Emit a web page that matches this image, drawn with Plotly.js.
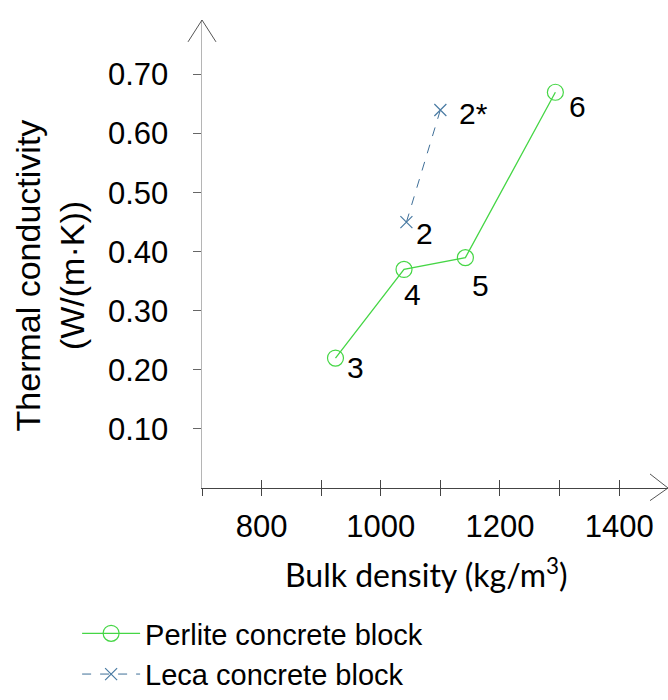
<!DOCTYPE html>
<html>
<head>
<meta charset="utf-8">
<script src="https://cdn.plot.ly/plotly-3.0.1.min.js"></script>
<style>html,body{margin:0;padding:0;background:#fff;}#chart{width:668px;height:700px;}</style>
</head>
<body>
<div id="chart"></div>
<script>
// ---- data ----
const perliteDensity = [924, 1039, 1142, 1293];
const perliteConductivity = [0.22, 0.37, 0.39, 0.67];
const perliteLabels = ['3', '4', '5', '6'];

const lecaDensity = [1043, 1100];
const lecaConductivity = [0.45, 0.64];
const lecaLabels = ['2', '2*'];

const xTickVals = [800, 1000, 1200, 1400];
const xTickText = ['800', '1000', '1200', '1400'];
const xAllTickVals = [800, 900, 1000, 1100, 1200, 1300, 1400];
const yTickVals = [0.10, 0.20, 0.30, 0.40, 0.50, 0.60, 0.70];
const yTickText = ['0.10', '0.20', '0.30', '0.40', '0.50', '0.60', '0.70'];

const seriesNames = ['Perlite concrete block', 'Leca concrete block'];
const xTitle = 'Bulk density (kg/m<sup>3</sup>)';
const yTitle = 'Thermal conductivity<br>(W/(m·K))';

// ---- label offsets (style) ----
const perliteLabelShift = [[20, -9], [8, -25], [15, -28], [22, -14]];
const lecaLabelShift = [[18, -11], [33, -4]];

const XR = [700, 1482];
const YR = [0, 0.7923];
const ARIAL = 'Liberation Sans, Arial, sans-serif';

const traces = [
  {
    x: perliteDensity, y: perliteConductivity, name: seriesNames[0],
    type: 'scatter', mode: 'lines+markers',
    line: {color: '#45d645', width: 1.3},
    marker: {symbol: 'circle-open', size: 16, color: '#45d645', line: {width: 1.2, color: '#45d645'}}
  },
  {
    x: lecaDensity, y: lecaConductivity, name: seriesNames[1],
    xaxis: 'x2', yaxis: 'y',
    type: 'scatter', mode: 'lines+markers',
    line: {color: '#3f6f98', width: 1, dash: 'dash'},
    marker: {symbol: 'x-thin-open', size: 12, color: '#4a7ba3', line: {width: 1.2, color: '#4a7ba3'}}
  }
];

const annotations = [];
perliteDensity.forEach((d, i) => annotations.push({
  x: d, y: perliteConductivity[i], xref: 'x', yref: 'y', text: perliteLabels[i],
  showarrow: false, xshift: perliteLabelShift[i][0], yshift: perliteLabelShift[i][1],
  font: {family: ARIAL, size: 30, color: '#000'}
}));
lecaDensity.forEach((d, i) => annotations.push({
  x: d, y: lecaConductivity[i], xref: 'x', yref: 'y', text: lecaLabels[i],
  showarrow: false, xshift: lecaLabelShift[i][0], yshift: lecaLabelShift[i][1],
  font: {family: ARIAL, size: 30, color: '#000'}
}));
annotations.push({
  x: -0.326, y: 0.4544, xref: 'paper', yref: 'paper', text: yTitle, textangle: -90,
  showarrow: false, xanchor: 'center', yanchor: 'middle',
  font: {family: ARIAL, size: 34, color: '#000'}
});
annotations.push({
  x: 0.4828, y: -0.1826, xref: 'paper', yref: 'paper', text: xTitle,
  showarrow: false, xanchor: 'center', yanchor: 'middle',
  font: {family: 'Lato, Open Sans, sans-serif', size: 32, color: '#000'}
});

const shapes = [
  {type: 'path', xref: 'paper', yref: 'paper', path: 'M -0.030,0.9533 L 0,1 L 0.030,0.9533',
   line: {color: '#555', width: 1}},
  {type: 'path', xref: 'paper', yref: 'paper', path: 'M 0.9614,0.0300 L 1,0 L 0.9614,-0.0270',
   line: {color: '#555', width: 1}}
];

const layout = {
  width: 668, height: 700,
  margin: {l: 202, r: 0, t: 20, b: 209, pad: 0},
  paper_bgcolor: '#fff', plot_bgcolor: '#fff',
  showlegend: true,
  legend: {
    x: -0.268, y: -0.257, xanchor: 'left', yanchor: 'top',
    font: {family: ARIAL, size: 29, color: '#000'},
    itemwidth: 58, tracegroupgap: 0, bgcolor: 'rgba(0,0,0,0)'
  },
  xaxis: {
    range: XR, showgrid: false, zeroline: false,
    showline: true, linecolor: '#444', linewidth: 1.2,
    tickmode: 'array', tickvals: xTickVals, ticktext: xTickText,
    ticks: 'outside', ticklen: 7, tickwidth: 1, tickcolor: '#444',
    tickfont: {family: ARIAL, size: 31, color: '#000'},
    ticklabelstandoff: 4,
    minor: {tick0: 800, dtick: 100, ticks: 'outside', ticklen: 7, tickwidth: 1, tickcolor: '#444', showgrid: false}
  },
  xaxis2: {
    range: XR, overlaying: 'x', anchor: 'y', side: 'bottom',
    showgrid: false, zeroline: false, showline: false,
    tickmode: 'array', tickvals: xAllTickVals, showticklabels: false,
    ticks: 'inside', ticklen: 8, tickwidth: 1, tickcolor: '#444'
  },
  yaxis: {
    range: YR, showgrid: false, zeroline: false,
    showline: true, linecolor: '#b5b5b5', linewidth: 1.5,
    tickmode: 'array', tickvals: yTickVals, ticktext: yTickText,
    ticks: 'outside', ticklen: 8, tickwidth: 1, tickcolor: '#666',
    tickfont: {family: ARIAL, size: 31, color: '#000'},
    ticklabelstandoff: 18
  },
  annotations: annotations,
  shapes: shapes
};

Plotly.newPlot('chart', traces, layout, {displayModeBar: false, staticPlot: true});
</script>
</body>
</html>
